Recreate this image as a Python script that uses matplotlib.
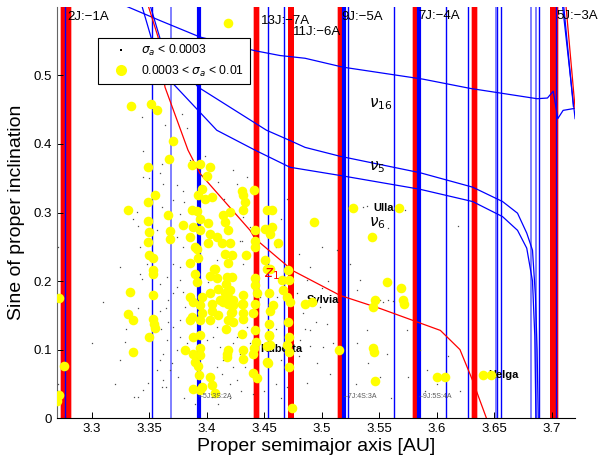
import numpy as np
import matplotlib.pyplot as plt
from matplotlib.lines import Line2D

plt.rcParams['font.family'] = ['Liberation Sans', 'DejaVu Sans']
plt.rcParams['mathtext.fontset'] = 'dejavusans'

# ── resonances (proper a in AU) ──────────────────────────────────────────────
MMR_A     = [3.2776, 3.4432, 3.4733, 3.5160, 3.5815, 3.6325, 3.7020]
MMR_WIDTH = [0.0090, 0.0045, 0.0045, 0.0040, 0.0045, 0.0045, 0.0070]
MMR_LABELS = ["2J:\u22121A", "13J:\u22127A", "11J:\u22126A", "9J:\u22125A",
              "7J:\u22124A", "5J:\u22123A"]
MMR_LABEL_A = [3.2790, 3.4470, 3.4748, 3.5173, 3.5840, 3.7040]
MMR_LABEL_S = [0.585, 0.580, 0.563, 0.585, 0.587, 0.587]

BLUE_THIN  = [3.2768, 3.3528, 3.4530, 3.4670, 3.5225, 3.5630, 3.6077,
              3.6268, 3.6525, 3.6553, 3.6885, 3.7030]
BLUE_LIGHT = [3.3689, 3.6510, 3.6820, 3.6860]
BLUE_THICK = [3.3937, 3.5195, 3.5848]

THREE_BODY = ["\u20135J:3S:2A", "\u20137J:4S:3A", "\u20139J:5S:4A"]

# ── secular resonance curves ────────────────────────────────────────────────
NU16_A = [3.3273, 3.3595, 3.3942, 3.442, 3.4637, 3.4855, 3.5185, 3.588,
          3.629, 3.687, 3.696, 3.701, 3.705, 3.7096, 3.7200]
NU16_S = [0.603, 0.580, 0.556, 0.536, 0.529, 0.525, 0.512, 0.4945,
          0.481, 0.466, 0.467, 0.477, 0.437, 0.449, 0.452]
NU5_A = [3.3508, 3.3595, 3.3925, 3.452, 3.4724, 3.4855, 3.516, 3.5854,
         3.631, 3.657, 3.670, 3.678, 3.683, 3.6855, 3.6870, 3.6880]
NU5_S = [0.603, 0.554, 0.483, 0.420, 0.405, 0.395, 0.382, 0.358,
         0.337, 0.316, 0.299, 0.270, 0.245, 0.180, 0.100, 0.0]
NU6_A = [3.3435, 3.352, 3.3708, 3.4088, 3.442, 3.4724, 3.516, 3.585,
         3.631, 3.657, 3.670, 3.678, 3.683, 3.6850, 3.6860]
NU6_S = [0.603, 0.554, 0.488, 0.420, 0.391, 0.366, 0.354, 0.334,
         0.316, 0.294, 0.274, 0.248, 0.200, 0.120, 0.0]
Z1_A = [3.349, 3.3578, 3.3638, 3.3838, 3.3942, 3.4377, 3.442, 3.475,
        3.516, 3.5506, 3.603, 3.620, 3.631, 3.6375, 3.643]
Z1_S = [0.603, 0.556, 0.483, 0.391, 0.357, 0.274, 0.262, 0.215,
        0.179, 0.160, 0.128, 0.100, 0.055, 0.025, 0.0]
# steep branches at the right edge
EDGE_BLUE1_A = [3.7090, 3.7200]; EDGE_BLUE1_S = [0.603, 0.437]
EDGE_BLUE2_A = [3.7100, 3.7185]; EDGE_BLUE2_S = [0.603, 0.455]
EDGE_RED_A   = [3.7120, 3.7200]; EDGE_RED_S   = [0.603, 0.452]

# ── asteroids: 0.0003 < sigma_a < 0.01 (yellow) ─────────────────────────────
YEL = [
    (3.4189, 0.577), (3.3343, 0.456), (3.3514, 0.459), (3.3566, 0.450), (3.371, 0.405),
    (3.3673, 0.3785), (3.3493, 0.367), (3.387, 0.369), (3.3942, 0.371), (3.403, 0.367),
    (3.400, 0.353), (3.3957, 0.335), (3.3551, 0.325), (3.3493, 0.316), (3.332, 0.304),
    (3.3493, 0.288), (3.3667, 0.297), (3.350, 0.272), (3.3493, 0.257), (3.3682, 0.273),
    (3.3682, 0.262), (3.350, 0.238), (3.3537, 0.233), (3.3797, 0.282), (3.387, 0.303),
    (3.3914, 0.302), (3.3928, 0.325), (3.3986, 0.320), (3.4044, 0.323), (3.3942, 0.291),
    (3.3884, 0.279), (3.3855, 0.264), (3.3942, 0.274), (3.4015, 0.284), (3.403, 0.269),
    (3.4015, 0.255), (3.3914, 0.247), (3.4088, 0.264), (3.4145, 0.296), (3.4203, 0.301),
    (3.416, 0.286), (3.4189, 0.274), (3.4131, 0.255), (3.4203, 0.255), (3.416, 0.240),
    (3.4218, 0.238), (3.4189, 0.226), (3.4305, 0.332), (3.4313, 0.325), (3.4334, 0.315),
    (3.4313, 0.304), (3.4412, 0.333), (3.4522, 0.304), (3.4565, 0.304), (3.442, 0.275),
    (3.4507, 0.276), (3.4565, 0.279), (3.455, 0.269), (3.4617, 0.256), (3.442, 0.250),
    (3.442, 0.259), (3.4342, 0.238), (3.3855, 0.226), (3.3928, 0.233), (3.3899, 0.250),
    (3.4507, 0.230), (3.455, 0.218), (3.4067, 0.218),
    (3.3531, 0.216), (3.3537, 0.211), (3.3899, 0.210), (3.3914, 0.199), (3.403, 0.208),
    (3.4073, 0.217), (3.4174, 0.206), (3.4218, 0.206), (3.4168, 0.196), (3.4203, 0.187),
    (3.416, 0.182), (3.4145, 0.170), (3.4189, 0.167), (3.4218, 0.155), (3.4232, 0.140),
    (3.4166, 0.130), (3.4318, 0.179), (3.4313, 0.167), (3.4318, 0.153), (3.4313, 0.145),
    (3.4307, 0.123), (3.442, 0.204), (3.442, 0.194), (3.4435, 0.182), (3.442, 0.167),
    (3.4406, 0.153), (3.442, 0.128), (3.4426, 0.111), (3.4412, 0.102), (3.440, 0.094),
    (3.4318, 0.099), (3.4318, 0.087), (3.4189, 0.099), (3.4174, 0.089), (3.4406, 0.066),
    (3.444, 0.058), (3.4545, 0.182), (3.455, 0.157), (3.4545, 0.138), (3.4545, 0.121),
    (3.4522, 0.105), (3.4522, 0.082), (3.4522, 0.218),
    (3.3334, 0.184), (3.332, 0.152), (3.3363, 0.143), (3.3363, 0.097), (3.3537, 0.179),
    (3.3537, 0.145), (3.3543, 0.138), (3.3551, 0.131), (3.3502, 0.119),
    (3.3856, 0.177), (3.3884, 0.170), (3.3957, 0.177), (3.3942, 0.165), (3.387, 0.148),
    (3.3942, 0.143), (3.3855, 0.143), (3.3957, 0.153), (3.403, 0.182), (3.4044, 0.167),
    (3.403, 0.143), (3.4044, 0.157), (3.4101, 0.189), (3.4116, 0.172), (3.4101, 0.150),
    (3.3884, 0.119), (3.3942, 0.121), (3.3812, 0.099), (3.3884, 0.094), (3.3942, 0.102),
    (3.3942, 0.092), (3.3899, 0.082), (3.3928, 0.076), (3.3937, 0.063), (3.403, 0.060),
    (3.4044, 0.048), (3.4073, 0.036), (3.3884, 0.042), (3.3942, 0.041), (3.3957, 0.046),
    (3.4088, 0.204), (3.4189, 0.177), (3.4232, 0.172), (3.4232, 0.165), (3.4209, 0.153),
    (3.4189, 0.143), (3.4305, 0.167), (3.4174, 0.094),
    (3.471, 0.216), (3.4652, 0.202), (3.4718, 0.201), (3.4666, 0.187), (3.4696, 0.177),
    (3.4724, 0.170), (3.4855, 0.167), (3.4913, 0.170), (3.4579, 0.165), (3.471, 0.140),
    (3.4718, 0.119), (3.4696, 0.106), (3.4718, 0.097), (3.4718, 0.075), (3.455, 0.106),
    (3.4545, 0.120), (3.4536, 0.080), (3.515, 0.100), (3.5434, 0.264), (3.5564, 0.199),
    (3.5686, 0.190), (3.5463, 0.172), (3.5448, 0.162), (3.5703, 0.172), (3.5717, 0.167),
    (3.5448, 0.102), (3.5457, 0.097), (3.5463, 0.054),
    (3.4930, 0.286), (3.4745, 0.015), (3.272, 0.175), (3.2763, 0.076), (3.272, 0.034),
    (3.2700, 0.025), (3.5274, 0.307), (3.5674, 0.307), (3.600, 0.060), (3.607, 0.060),
    (3.640, 0.063), (3.647, 0.063),
]

# ── asteroids: sigma_a < 0.0003 (small black) ───────────────────────────────
BLK = [
    (3.3421, 0.211), (3.3436, 0.2036), (3.3595, 0.196), (3.3653, 0.206), (3.3667, 0.172),
    (3.371, 0.182), (3.374, 0.191), (3.3769, 0.201), (3.3798, 0.184), (3.3812, 0.162),
    (3.3769, 0.143), (3.371, 0.133), (3.3653, 0.114), (3.3624, 0.094), (3.3595, 0.085),
    (3.3566, 0.070), (3.361, 0.046), (3.3682, 0.070), (3.374, 0.099), (3.3769, 0.119),
    (3.3827, 0.109), (3.400, 0.114), (3.4058, 0.119), (3.4087, 0.133), (3.4116, 0.104),
    (3.4145, 0.085), (3.4232, 0.109), (3.426, 0.119), (3.429, 0.094), (3.4333, 0.075),
    (3.4348, 0.133), (3.4377, 0.109), (3.4044, 0.031), (3.4087, 0.075), (3.413, 0.065),
    (3.3407, 0.031), (3.3247, 0.085), (3.3291, 0.111), (3.345, 0.041), (3.3493, 0.051),
    (3.4232, 0.075), (3.426, 0.055), (3.3595, 0.157), (3.3667, 0.140), (3.4015, 0.199),
    (3.3769, 0.221), (3.3247, 0.221), (3.3479, 0.2255),
    (3.361, 0.371), (3.3595, 0.357), (3.345, 0.352), (3.374, 0.340), (3.371, 0.318),
    (3.361, 0.308), (3.3769, 0.298), (3.3798, 0.332), (3.3392, 0.301), (3.3363, 0.291),
    (3.3406, 0.281), (3.3566, 0.274), (3.374, 0.264), (3.3798, 0.250), (3.371, 0.2255),
    (3.3421, 0.250), (3.4232, 0.3615), (3.4261, 0.342), (3.4348, 0.352), (3.4319, 0.293),
    (3.4377, 0.279), (3.429, 0.259), (3.4348, 0.240), (3.4087, 0.230), (3.3986, 0.383),
    (3.3856, 0.376), (3.3624, 0.342),
    (3.4305, 0.259), (3.4319, 0.2255), (3.4609, 0.177), (3.4783, 0.182), (3.484, 0.153),
    (3.4985, 0.162), (3.5043, 0.138), (3.4898, 0.128), (3.4811, 0.114), (3.5014, 0.104),
    (3.4956, 0.080), (3.5072, 0.065), (3.4869, 0.051), (3.5304, 0.187), (3.5333, 0.201),
    (3.5506, 0.172), (3.5535, 0.170), (3.5578, 0.172), (3.5622, 0.171), (3.5391, 0.128),
    (3.5304, 0.109), (3.5564, 0.094), (3.5506, 0.060), (3.5738, 0.128), (3.5854, 0.099),
    (3.5912, 0.070), (3.5245, 0.2255), (3.513, 0.245), (3.4869, 0.201), (3.4464, 0.177),
    (3.5361, 0.308), (3.5390, 0.309), (3.5723, 0.304), (3.5578, 0.277), (3.6187, 0.280),
    (3.3436, 0.440), (3.3638, 0.427), (3.3783, 0.444), (3.3827, 0.424),
    (3.3373, 0.031), (3.3618, 0.055), (3.3649, 0.045), (3.4200, 0.050), (3.2705, 0.250),
    (3.2705, 0.040), (3.2710, 0.050), (3.5900, 0.040), (3.6000, 0.050),
    (3.360, 0.130), (3.365, 0.160), (3.370, 0.080), (3.375, 0.060), (3.380, 0.030),
    (3.390, 0.020), (3.410, 0.020), (3.420, 0.030), (3.430, 0.040), (3.440, 0.035),
    (3.450, 0.040), (3.460, 0.050), (3.465, 0.030), (3.470, 0.045), (3.480, 0.090),
    (3.485, 0.130), (3.490, 0.105), (3.495, 0.140), (3.500, 0.190), (3.505, 0.200),
    (3.510, 0.110), (3.460, 0.130), (3.465, 0.085), (3.460, 0.250), (3.465, 0.290),
    (3.470, 0.320), (3.480, 0.240), (3.490, 0.220), (3.500, 0.250), (3.415, 0.320),
    (3.410, 0.345), (3.395, 0.355), (3.380, 0.315), (3.350, 0.350), (3.345, 0.390),
    (3.340, 0.160), (3.330, 0.130), (3.320, 0.050), (3.310, 0.170), (3.300, 0.110),
    (3.530, 0.050), (3.540, 0.080), (3.560, 0.030), (3.575, 0.060), (3.610, 0.090),
    (3.620, 0.040),
]

# named asteroids
NAMES   = ["Ulla", "Sylvia", "Huberta", "Helga"]
NAMES_A = [3.5445, 3.4869, 3.4464, 3.6450]
NAMES_S = [0.307, 0.172, 0.1016, 0.063]

fig = plt.figure(figsize=(6.06, 4.57), dpi=100)
ax = fig.add_axes([0.094, 0.085, 0.855, 0.9])

# resonance bands / lines
for a, w in zip(MMR_A, MMR_WIDTH):
    ax.axvspan(a - w / 2 - 0.0007, a + w / 2 + 0.0007, color='#ffaaaa', lw=0, zorder=1)
    ax.axvspan(a - w / 2, a + w / 2, color='red', lw=0, zorder=1.1)
for a in BLUE_THIN:
    ax.axvline(a, color='blue', lw=1.0, zorder=1.5)
for a in BLUE_LIGHT:
    ax.axvline(a, color='#6a6aff', lw=1.2, zorder=1.5)
for a in BLUE_THICK:
    ax.axvline(a, color='blue', lw=3.0, zorder=1.5)

# secular resonances
for xa, ys in [(NU16_A, NU16_S), (NU5_A, NU5_S), (NU6_A, NU6_S),
               (EDGE_BLUE1_A, EDGE_BLUE1_S), (EDGE_BLUE2_A, EDGE_BLUE2_S)]:
    ax.plot(xa, ys, color='blue', lw=0.9, zorder=2)
for xa, ys in [(Z1_A, Z1_S), (EDGE_RED_A, EDGE_RED_S)]:
    ax.plot(xa, ys, color='red', lw=0.9, zorder=2)

# asteroids
blk = np.array(BLK)
yel = np.array(YEL)
ax.plot(blk[:, 0], blk[:, 1], ls='', marker='s', ms=0.9, mew=0, color='0.3', zorder=3)
for name, a, s in zip(NAMES, NAMES_A, NAMES_S):
    ax.text(a, s, name, fontsize=8, fontweight='bold', va='center', ha='left', zorder=3.5)
ax.scatter(yel[:, 0], yel[:, 1], s=48, c='yellow', linewidths=0, zorder=4)

# labels
for lab, a, s in zip(MMR_LABELS, MMR_LABEL_A, MMR_LABEL_S):
    ax.text(a, s, lab, fontsize=9.5, va='center', ha='left', zorder=5)
for lab, a in zip(THREE_BODY, BLUE_THICK):
    ax.text(a, 0.032, lab, fontsize=5, color='0.35', va='center', ha='left', zorder=5)
ax.text(3.541, 0.453, r'$\nu_{16}$', fontsize=11, zorder=5)
ax.text(3.541, 0.361, r'$\nu_{5}$', fontsize=11, zorder=5)
ax.text(3.541, 0.280, r'$\nu_{6}$', fontsize=11, zorder=5)
ax.text(3.450, 0.205, r'$z_{1}$', fontsize=11, color='red', zorder=5)

ax.set_xlim(3.27, 3.72)
ax.set_ylim(0, 0.6)
ax.set_xticks([3.3, 3.35, 3.4, 3.45, 3.5, 3.55, 3.6, 3.65, 3.7])
ax.set_xticklabels(['3.3', '3.35', '3.4', '3.45', '3.5', '3.55', '3.6', '3.65', '3.7'])
ax.set_yticks([0, 0.1, 0.2, 0.3, 0.4, 0.5])
ax.set_yticklabels(['0', '0.1', '0.2', '0.3', '0.4', '0.5'])
ax.tick_params(direction='in', length=4, labelsize=9.5, width=0.7)
ax.spines['top'].set_visible(False)
ax.spines['right'].set_visible(False)
ax.spines['left'].set_color('0.4')
ax.set_xlabel('Proper semimajor axis [AU]', fontsize=14, labelpad=2)
ax.set_ylabel('Sine of proper inclination', fontsize=14, labelpad=6)

handles = [Line2D([], [], ls='', marker='s', ms=2, mew=0, color='k'),
           Line2D([], [], ls='', marker='o', ms=8, mew=0, color='yellow')]
leg = ax.legend(handles, [r'$\sigma_a$ < 0.0003', r'0.0003 < $\sigma_a$ < 0.01'],
                loc='upper left', bbox_to_anchor=(0.079, 0.925), borderaxespad=0,
                fancybox=False, edgecolor='k', framealpha=1, fontsize=8.7,
                handlelength=3.0, handletextpad=0.15, borderpad=0.45,
                labelspacing=0.45)
leg.get_frame().set_linewidth(0.8)
leg.set_zorder(10)

fig.savefig('out.png', dpi=100)
